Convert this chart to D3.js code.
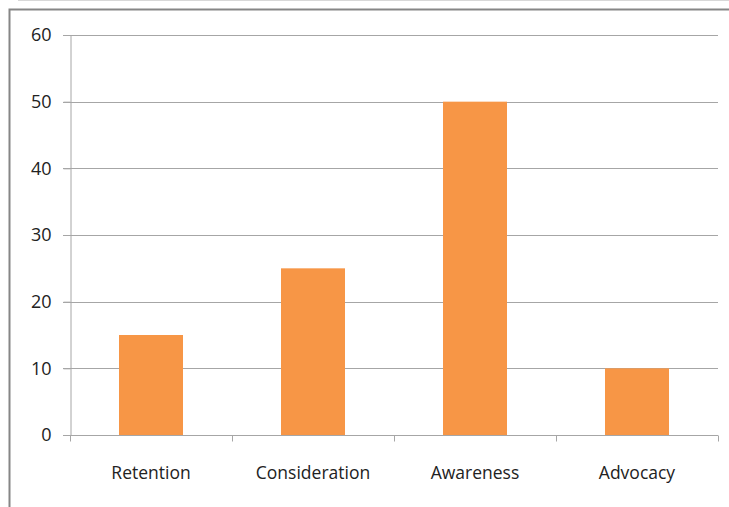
<!DOCTYPE html>
<html>
<head>
<meta charset="utf-8">
<script src="https://cdn.jsdelivr.net/npm/d3@7"></script>
<style>
  body { margin: 0; background: #fff; }
  svg { display: block; }
</style>
</head>
<body>
<script>
const categories = ["Retention", "Consideration", "Awareness", "Advocacy"];
const values = [15, 25, 50, 10];
const yTicks = [0, 10, 20, 30, 40, 50, 60];

const width = 729, height = 507;
const margin = { top: 35, right: 11, bottom: 72, left: 70 };

const svg = d3.select("body").append("svg")
  .attr("width", width)
  .attr("height", height);

// chart frame
svg.append("line").attr("x1", 18).attr("x2", width).attr("y1", 0.5).attr("y2", 0.5)
  .attr("stroke", "#d8d8d8");
svg.append("path")
  .attr("d", `M9.5,${height} V9.5 H${width}`)
  .attr("fill", "none").attr("stroke", "#868686").attr("stroke-width", 2);

const x = d3.scaleBand()
  .domain(categories)
  .range([margin.left, width - margin.right])
  .paddingInner(0).paddingOuter(0);

const y = d3.scaleLinear()
  .domain([0, 60])
  .range([height - margin.bottom, margin.top]);

// gridlines
svg.append("g")
  .selectAll("line")
  .data(yTicks.filter(d => d > 0))
  .join("line")
  .attr("x1", margin.left - 7)
  .attr("x2", width - margin.right)
  .attr("y1", d => Math.round(y(d)) + 0.5)
  .attr("y2", d => Math.round(y(d)) + 0.5)
  .attr("stroke", "#a6a6a6");

// y axis
const yAxis = svg.append("g")
  .attr("transform", `translate(${margin.left + 0.5},0)`)
  .call(d3.axisLeft(y).tickValues(yTicks).tickSize(7).tickPadding(12));
yAxis.select(".domain").attr("stroke", "#a6a6a6");
yAxis.selectAll(".tick line").attr("stroke", "#a6a6a6");
yAxis.selectAll("text")
  .attr("fill", "#222")
  .style("font-family", "'Open Sans', sans-serif")
  .style("font-size", "18px");

// bars
const barW = 64;
svg.append("g")
  .selectAll("rect")
  .data(values)
  .join("rect")
  .attr("x", (d, i) => x(categories[i]) + x.bandwidth() / 2 - barW / 2)
  .attr("y", d => y(d))
  .attr("width", barW)
  .attr("height", d => y(0) - y(d))
  .attr("fill", "#f79646");

// x axis
const x0 = y(0);
const xAxis = svg.append("g").attr("transform", `translate(0,${Math.round(x0) + 0.5})`);
xAxis.append("line")
  .attr("x1", margin.left - 7).attr("x2", width - margin.right)
  .attr("stroke", "#a6a6a6");
xAxis.selectAll(".tk")
  .data(categories.map(c => x(c)).concat([x(categories[categories.length - 1]) + x.bandwidth()]))
  .join("line")
  .attr("class", "tk")
  .attr("x1", d => Math.round(d) + 0.5).attr("x2", d => Math.round(d) + 0.5)
  .attr("y1", 0).attr("y2", 6)
  .attr("stroke", "#a6a6a6");
xAxis.selectAll("text")
  .data(categories)
  .join("text")
  .attr("x", d => x(d) + x.bandwidth() / 2)
  .attr("y", 43)
  .attr("text-anchor", "middle")
  .attr("fill", "#222")
  .style("font-family", "'Open Sans', sans-serif")
  .style("font-size", "17.5px")
  .text(d => d);
</script>
</body>
</html>
